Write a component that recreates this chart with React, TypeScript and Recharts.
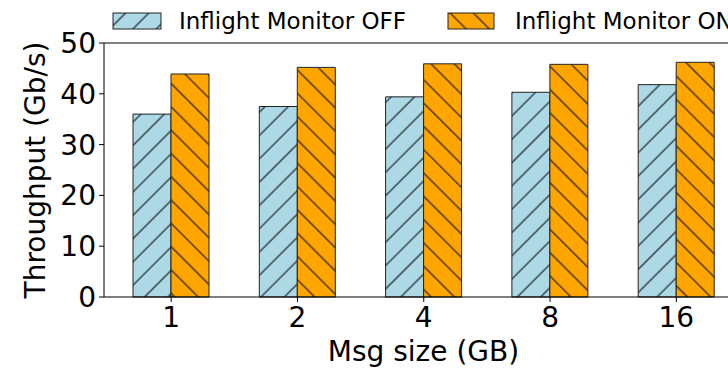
import { BarChart, Bar, XAxis, YAxis, Legend, ReferenceLine } from 'recharts';

const msgSizes = ['1', '2', '4', '8', '16'];
const monitorOff = [36.0, 37.5, 39.4, 40.3, 41.8];
const monitorOn = [43.9, 45.2, 45.9, 45.8, 46.2];
const yTicks = [0, 10, 20, 30, 40, 50];
const seriesNames = ['Inflight Monitor OFF', 'Inflight Monitor ON'];

const data = msgSizes.map((size, i) => ({ size, off: monitorOff[i], on: monitorOn[i] }));

const FONT = '"DejaVu Sans", sans-serif';
// perpendicular distance between hatch lines
const HATCH = 23.3 / Math.SQRT2;

function Hatch({ id, fill, angle, offset }: { id: string; fill: string; angle: number; offset: number }) {
	return (
		<pattern
			id={id}
			patternUnits="userSpaceOnUse"
			width={HATCH}
			height={HATCH}
			patternTransform={`rotate(${angle})`}
		>
			<rect width={HATCH} height={HATCH} fill={fill} />
			<line x1={-1} x2={HATCH + 1} y1={offset} y2={offset} stroke="#000" strokeWidth={1} />
		</pattern>
	);
}

function LegendRow() {
	return (
		<svg width={728} height={40} style={{ display: 'block' }}>
			<rect x={113} y={13} width={48} height={16} fill="url(#hatchOff)" stroke="#222" />
			<text x={179} y={29} fontSize={23} fontFamily={FONT} fill="#000">
				{seriesNames[0]}
			</text>
			<rect x={448} y={13} width={46} height={16} fill="url(#hatchOn)" stroke="#222" />
			<text x={515} y={29} fontSize={23} fontFamily={FONT} fill="#000">
				{seriesNames[1]}
			</text>
		</svg>
	);
}

function YTitle(props: any) {
	const vb = props.viewBox;
	const x = vb.x + 45;
	const y = vb.y + vb.height / 2;
	return (
		<text
			x={x}
			y={y}
			transform={`rotate(-90, ${x}, ${y})`}
			textAnchor="middle"
			fontSize={28}
			fontFamily={FONT}
			fill="#000"
		>
			Throughput (Gb/s)
		</text>
	);
}

function XTitle(props: any) {
	const vb = props.viewBox;
	return (
		<text
			x={vb.x + vb.width / 2}
			y={361}
			textAnchor="middle"
			fontSize={28}
			fontFamily={FONT}
			fill="#000"
		>
			Msg size (GB)
		</text>
	);
}

export default function App() {
	return (
		<div
			style={{
				position: 'absolute',
				left: 0,
				top: 0,
				width: 728,
				height: 368,
				overflow: 'hidden',
				background: '#fff',
			}}
		>
			<BarChart
				width={760}
				height={368}
				data={data}
				margin={{ top: 43, right: 17, left: 0, bottom: 0 }}
				barSize={38}
				barGap={0}
				style={{ fontFamily: FONT }}
			>
				<defs>
					<Hatch id="hatchOff" fill="#add8e6" angle={-45} offset={15.6} />
					<Hatch id="hatchOn" fill="#ffa500" angle={45} offset={3.96} />
				</defs>
				<XAxis
					dataKey="size"
					height={71}
					padding={{ left: 4, right: 3.5 }}
					tick={{ fontSize: 28, fill: '#000', fontFamily: FONT }}
					tickSize={5}
					tickMargin={5}
					tickLine={{ stroke: '#000' }}
					axisLine={{ stroke: '#000' }}
					label={<XTitle />}
				/>
				<YAxis
					width={104}
					domain={[0, 50]}
					ticks={yTicks}
					interval={0}
					tick={{ fontSize: 28, fill: '#000', fontFamily: FONT }}
					tickSize={5}
					tickMargin={3}
					tickLine={{ stroke: '#000' }}
					axisLine={{ stroke: '#000' }}
					label={<YTitle />}
				/>
				<ReferenceLine y={50} stroke="#000" strokeWidth={1} ifOverflow="visible" />
				<Legend
					layout="horizontal"
					verticalAlign="middle"
					align="center"
					wrapperStyle={{ position: 'absolute', top: 0, left: 0, width: 728, height: 40 }}
					content={() => <LegendRow />}
				/>
				<Bar
					dataKey="off"
					name={seriesNames[0]}
					fill="url(#hatchOff)"
					stroke="#222"
					strokeWidth={1}
					isAnimationActive={false}
				/>
				<Bar
					dataKey="on"
					name={seriesNames[1]}
					fill="url(#hatchOn)"
					stroke="#222"
					strokeWidth={1}
					isAnimationActive={false}
				/>
			</BarChart>
		</div>
	);
}
